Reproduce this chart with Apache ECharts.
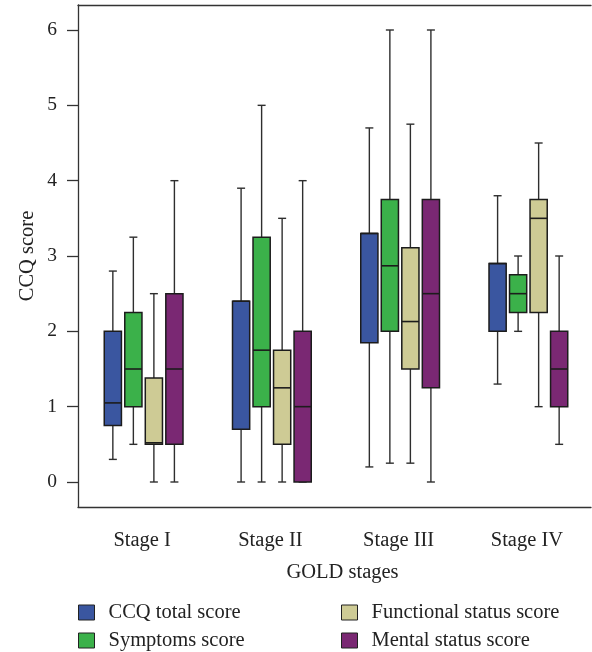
<!DOCTYPE html>
<html>
<head>
<meta charset="utf-8">
<script src="https://cdn.jsdelivr.net/npm/echarts@6/dist/echarts.min.js"></script>
<style>
  html, body { margin: 0; padding: 0; background: #fff; }
  #main { width: 592px; height: 652px; }
</style>
</head>
<body>
<div id="main"></div>
<script>
// box values: [min, Q1, median, Q3, max] per stage
var stages = ['Stage I', 'Stage II', 'Stage III', 'Stage IV'];
var ccqTotal = [[0.3, 0.75, 1.05, 2.0, 2.8], [0, 0.7, 2.4, 2.4, 3.9], [0.2, 1.85, 3.3, 3.3, 4.7], [1.3, 2.0, 2.9, 2.9, 3.8]];
var symptoms = [[0.5, 1.0, 1.5, 2.25, 3.25], [0, 1.0, 1.75, 3.25, 5.0], [0.25, 2.0, 2.87, 3.75, 6.0], [2.0, 2.25, 2.5, 2.75, 3.0]];
var functional = [[0, 0.5, 0.52, 1.38, 2.5], [0, 0.5, 1.25, 1.75, 3.5], [0.25, 1.5, 2.13, 3.11, 4.75], [1.0, 2.25, 3.5, 3.75, 4.5]];
var mental = [[0, 0.5, 1.5, 2.5, 4.0], [0, 0, 1.0, 2.0, 4.0], [0, 1.25, 2.5, 3.75, 6.0], [0.5, 1.0, 1.5, 2.0, 3.0]];
var yTicks = [0, 1, 2, 3, 4, 5, 6];

var seriesNames = ['CCQ total score', 'Symptoms score', 'Functional status score', 'Mental status score'];
var seriesData = [ccqTotal, symptoms, functional, mental];
var colors = ['#3a56a0', '#3bb14a', '#cecb95', '#7a2873'];

var font = 'Liberation Serif';
var ink = '#222';

function makeRender(k) {
    return function (params, api) {
        var cat = api.value(0);
        var band = api.size([1, 0])[0];
        var x = api.coord([cat, 0])[0] + 1.5 + (k - 1.5) * band * 0.16;
        var half = band * 0.067;
        var cap = 4;
        var yMin = api.coord([cat, api.value(1)])[1];
        var yQ1 = api.coord([cat, api.value(2)])[1];
        var yMed = api.coord([cat, api.value(3)])[1];
        var yQ3 = api.coord([cat, api.value(4)])[1];
        var yMax = api.coord([cat, api.value(5)])[1];
        var wStyle = { stroke: '#2e2e2e', lineWidth: 1.4 };
        return {
            type: 'group',
            children: [
                { type: 'line', shape: { x1: x, y1: yMax, x2: x, y2: yQ3 }, style: wStyle },
                { type: 'line', shape: { x1: x, y1: yQ1, x2: x, y2: yMin }, style: wStyle },
                { type: 'line', shape: { x1: x - cap, y1: yMax, x2: x + cap, y2: yMax }, style: wStyle },
                { type: 'line', shape: { x1: x - cap, y1: yMin, x2: x + cap, y2: yMin }, style: wStyle },
                {
                    type: 'rect',
                    shape: { x: x - half, y: yQ3, width: half * 2, height: yQ1 - yQ3 },
                    style: { fill: colors[k], stroke: '#1c1c1c', lineWidth: 1.5 }
                },
                { type: 'line', shape: { x1: x - half, y1: yMed, x2: x + half, y2: yMed }, style: { stroke: '#1c1c1c', lineWidth: 1.6 } }
            ]
        };
    };
}

var series = [];
for (var k = 0; k < seriesNames.length; k++) {
    var rows = [];
    for (var i = 0; i < stages.length; i++) {
        rows.push([i].concat(seriesData[k][i]));
    }
    series.push({
        name: seriesNames[k],
        type: 'custom',
        xAxisIndex: 2,
        yAxisIndex: 1,
        itemStyle: { color: colors[k] },
        encode: { x: 0, y: [1, 2, 3, 4, 5] },
        renderItem: makeRender(k),
        data: rows,
        z: 5
    });
}

var legendText = { color: ink, fontFamily: font, fontSize: 20.5, lineHeight: 20, padding: [0, 0, 0, 9] };

var option = {
    animation: false,
    grid: [
        { left: 78, right: 1, top: 5, bottom: 145 },
        { left: 78, right: 1, top: 30, bottom: 170 }
    ],
    legend: [
        {
            left: 78, top: 602, width: 240, height: 70, orient: 'vertical', padding: 0, itemGap: 7,
            itemWidth: 16, itemHeight: 15,
            itemStyle: { borderColor: '#222', borderWidth: 1 },
            textStyle: legendText,
            data: [{ name: seriesNames[0], icon: 'rect' }, { name: seriesNames[1], icon: 'rect' }]
        },
        {
            left: 341, top: 602, width: 250, height: 70, orient: 'vertical', padding: 0, itemGap: 7,
            itemWidth: 16, itemHeight: 15,
            itemStyle: { borderColor: '#222', borderWidth: 1 },
            textStyle: legendText,
            data: [{ name: seriesNames[2], icon: 'rect' }, { name: seriesNames[3], icon: 'rect' }]
        }
    ],
    xAxis: [
        {
            gridIndex: 0, type: 'category', position: 'bottom', data: stages,
            axisLine: { lineStyle: { color: '#333', width: 1.3 } },
            axisTick: { alignWithLabel: true, length: 11, lineStyle: { color: '#333', width: 1.3 } },
            axisLabel: { margin: 23, color: ink, fontFamily: font, fontSize: 20.5 },
            name: 'GOLD stages', nameLocation: 'middle', nameGap: 55,
            nameTextStyle: { color: ink, fontFamily: font, fontSize: 20.5, padding: [0, 0, 0, 16] }
        },
        {
            gridIndex: 0, type: 'category', position: 'top', data: stages,
            axisLine: { lineStyle: { color: '#333', width: 1.3 } },
            axisTick: { show: false }, axisLabel: { show: false }
        },
        {
            gridIndex: 1, type: 'category', data: stages, show: false
        }
    ],
    yAxis: [
        {
            gridIndex: 0, type: 'value', min: 0, max: 1,
            axisLine: { show: true, lineStyle: { color: '#333', width: 1.3 } },
            axisTick: { show: false }, axisLabel: { show: false }, splitLine: { show: false },
            name: 'CCQ score', nameLocation: 'middle', nameGap: 40,
            nameTextStyle: { color: ink, fontFamily: font, fontSize: 20.5 }
        },
        {
            gridIndex: 1, type: 'value', min: yTicks[0], max: yTicks[yTicks.length - 1], interval: 1,
            axisLine: { show: false },
            axisTick: { show: true, length: 11, lineStyle: { color: '#333', width: 1.3 } },
            axisLabel: { margin: 21, color: ink, fontFamily: font, fontSize: 19.5 },
            splitLine: { show: false }
        }
    ],
    series: series
};

var myChart = echarts.init(document.getElementById('main'));
myChart.setOption(option);
</script>
</body>
</html>
